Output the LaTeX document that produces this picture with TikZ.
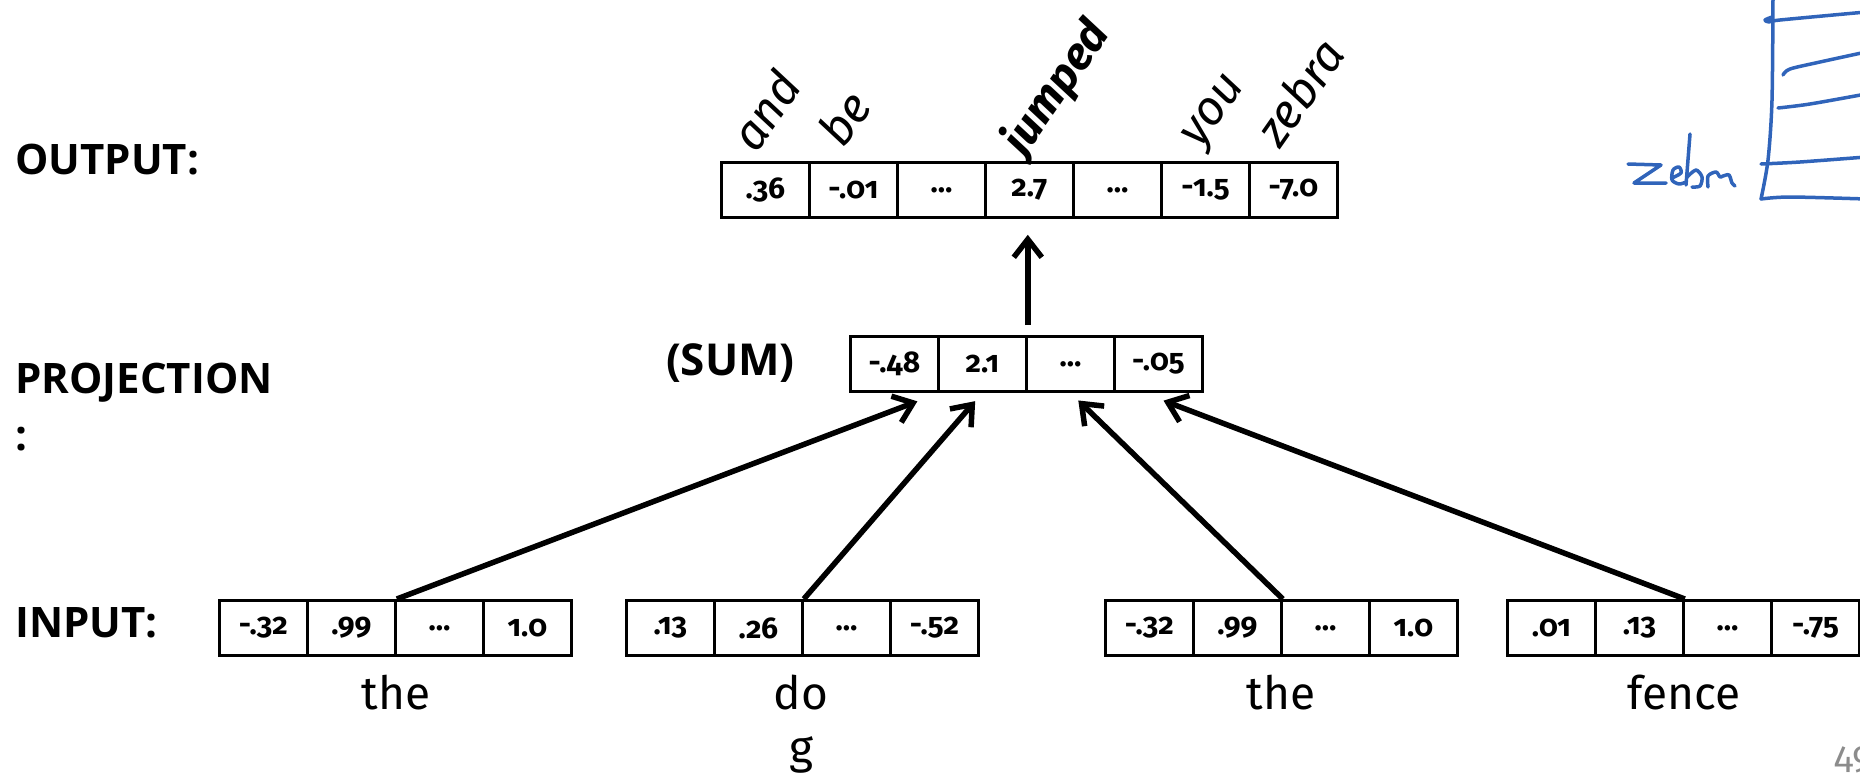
\documentclass[tikz,border=0pt]{standalone}
\usepackage{fontspec}
\setmainfont{Fira Sans}[Numbers=OldStyle]
\newfontfamily\lbl{Open Sans}
\usetikzlibrary{arrows.meta,calc}
\definecolor{ink}{HTML}{3064BA}
\definecolor{pgnum}{HTML}{8C8C8C}
\tikzset{
  cell/.style={draw, line width=2.8pt, minimum width=88pt, minimum height=55pt,
    inner sep=0pt, anchor=north west, font=\fontsize{30}{34}\selectfont\bfseries},
  arr/.style={line width=5.5pt, -{Straight Barb[length=18pt,width=28pt]}},
  side/.style={font=\lbl\fontsize{42}{57}\selectfont\bfseries, inner sep=0pt, align=left},
  word/.style={font=\fontsize{46}{54}\selectfont, inner sep=0pt, anchor=north, align=center},
  tag/.style={font=\fontsize{48}{54}\selectfont\itshape, inner sep=0pt, anchor=base west, rotate=55},
  hand/.style={draw=ink, line width=3.5pt, line cap=round, line join=round},
}
\begin{document}
\begin{tikzpicture}[x=1pt,y=-1pt]
\useasboundingbox (0,0) rectangle (1860,774);
% side labels
\node[side, anchor=west] (lout) at (15,160) {OUTPUT:};
\node[side, anchor=north west] (lproj) at (15,363) {PROJECTION\\:};
\node[side, anchor=west] (lin) at (15,623) {INPUT:};
% output row
\foreach \v [count=\i] in {.36,-.01,…,2.7,…,-1.5,-7.0}
  \node[cell] (o\i) at ({720+(\i-1)*88},161) {\v};
% rotated words
\node[tag] (wand) at (756,155) {and};
\node[tag] (wbe) at (843,150) {be};
\node[tag, font=\fontsize{45}{50}\selectfont\itshape\bfseries] (wjump) at (1024,158) {jumped};
\node[tag] (wyou) at (1200,150) {you};
\node[tag] (wzeb) at (1280,150) {zebra};
% sum row
\node[font=\lbl\fontsize{44}{50}\selectfont\bfseries, inner sep=0pt, anchor=east] (lsum) at (795,363) {(SUM)};
\foreach \v [count=\i] in {-.48,2.1,…,-.05}
  \node[cell] (s\i) at ({849+(\i-1)*88},335) {\v};
% input rows
\foreach \v [count=\i] in {-.32,.99,…,1.0}
  \node[cell] (a\i) at ({218+(\i-1)*88},599) {\v};
\foreach \v [count=\i] in {.13,.26,…,-.52}
  \node[cell] (b\i) at ({625+(\i-1)*88},599) {\v};
\foreach \v [count=\i] in {-.32,.99,…,1.0}
  \node[cell] (c\i) at ({1104+(\i-1)*88},599) {\v};
\foreach \v [count=\i] in {.01,.13,…,-.75}
  \node[cell] (d\i) at ({1506+(\i-1)*88},599) {\v};
% words under inputs
\node[word] (wthe1) at (396,675) {the};
\node[word] (wdog) at (801,675) {do\\g};
\node[word] (wthe2) at (1281,675) {the};
\node[word] (wfence) at (1684,675) {fence};
\node[font=\fontsize{38}{44}\selectfont, text=pgnum, inner sep=0pt, anchor=base west] (pg) at (1834,768) {49};
% arrows
\draw[arr, shorten >=24pt] (a2.north east) -- (s1.south east);
\draw[arr, shorten >=11pt] (b2.north east) -- (s2.south);
\draw[arr, shorten >=11pt] (c2.north east) -- (s3.south);
\draw[arr, shorten >=22pt] (d2.north east) -- ($(s4.south west)!0.33!(s4.south east)$);
\draw[arr, shorten <=10pt, shorten >=16pt] (s2.north east) -- (s2.north east |- o4.south);
% handwritten sketch
\draw[hand] plot[smooth] coordinates {(1773,-5) (1772,100) (1768,160) (1761,199)};
\draw[hand] plot[smooth] coordinates {(1761,199) (1790,197) (1866,199)};
\draw[hand] plot[smooth] coordinates {(1761,164) (1800,162) (1866,157)};
\draw[hand] plot[smooth] coordinates {(1778,108) (1810,104) (1866,94)};
\draw[hand] plot[smooth] coordinates {(1783,75) (1790,69) (1820,62) (1866,52)};
\draw[hand] plot[smooth] coordinates {(1772,17) (1765,20) (1769,22) (1780,20) (1866,12)};
\draw[hand] (1628,164) -- (1661,165) -- (1634,183) -- (1666,183);
\draw[hand] plot[smooth] coordinates {(1672,178) (1681,173) (1679,167) (1673,170) (1672,180) (1679,184) (1686,182)};
\draw[hand] (1690,134) -- (1686,185);
\draw[hand] plot[smooth] coordinates {(1687,177) (1696,170) (1702,177) (1700,186) (1692,187)};
\draw[hand] plot[smooth] coordinates {(1708,187) (1708,176) (1716,172) (1720,177) (1723,176) (1729,175) (1732,183) (1735,186)};
\end{tikzpicture}
\end{document}
